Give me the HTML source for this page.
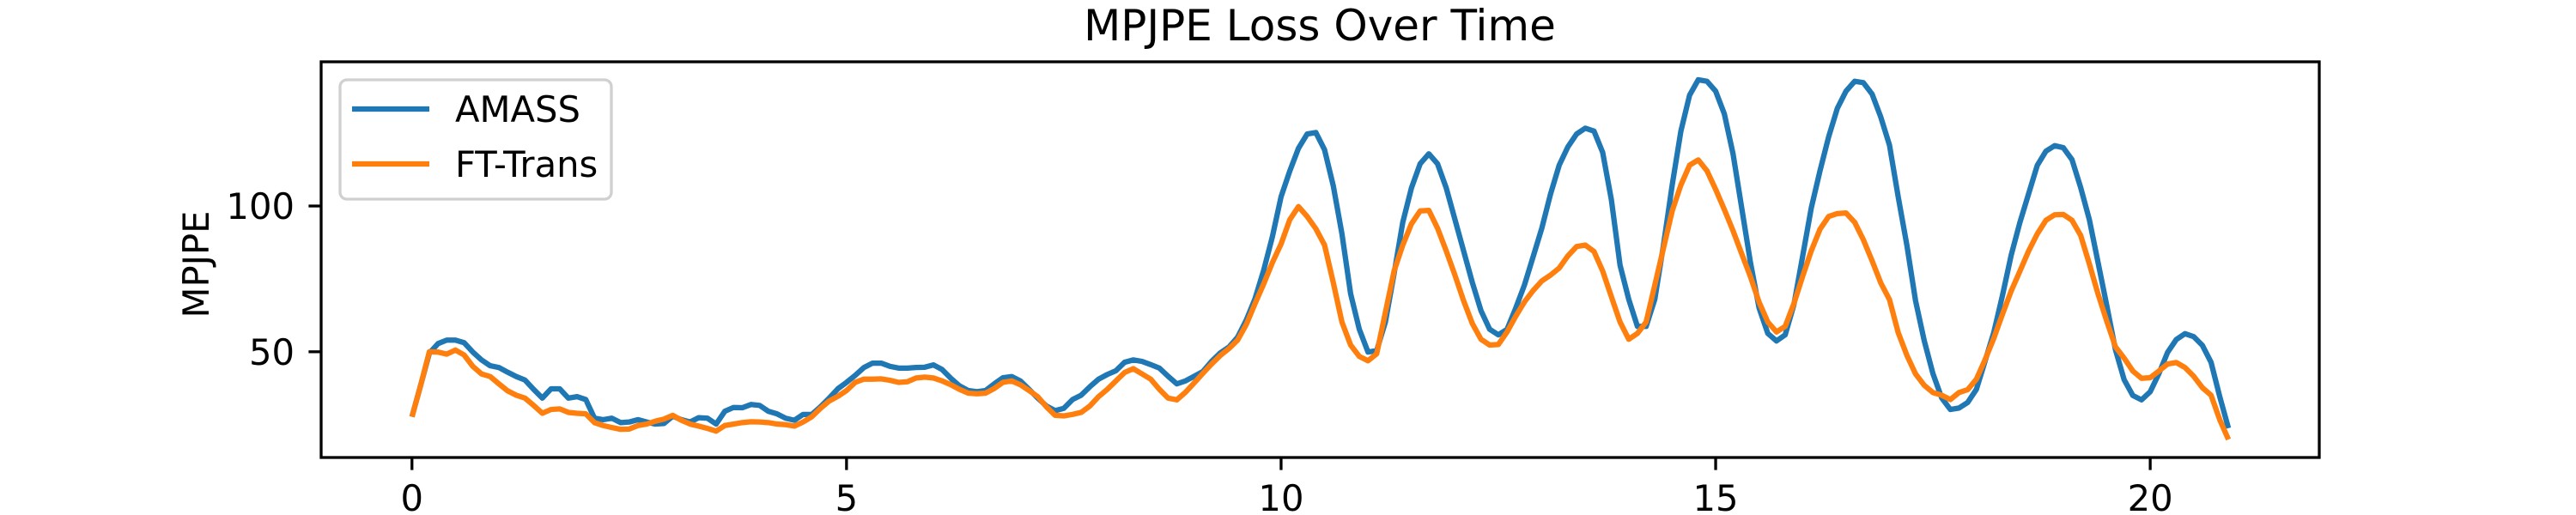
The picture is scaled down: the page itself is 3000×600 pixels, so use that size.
<!DOCTYPE html>
<html><head><meta charset="utf-8"><style>
html,body{margin:0;padding:0;background:#fff;}
svg{display:block;font-family:"DejaVu Sans","Liberation Sans",sans-serif;}
</style></head><body>
<svg id="chart" width="3000" height="600" viewBox="0 0 3000 600" xmlns="http://www.w3.org/2000/svg">
<rect width="3000" height="600" fill="#fff"/>
<text x="1537" y="47" font-size="50" text-anchor="middle">MPJPE Loss Over Time</text>
<text x="0" y="0" font-size="41.7" text-anchor="middle" transform="translate(243,308) rotate(-90)">MPJPE</text>
<g id="ticks"></g>
<g id="series"></g>
<rect x="374" y="72" width="2327" height="461" fill="none" stroke="#000" stroke-width="3.3"/>
<g>
<rect x="396" y="93" width="316" height="139" rx="8" fill="#fff" fill-opacity="0.8" stroke="#d0d0d0" stroke-width="3.3"/>
<line x1="410" y1="127" x2="500" y2="127" stroke="#1f77b4" stroke-width="6.25"/>
<text x="530" y="142" font-size="41.7">AMASS</text>
<line x1="410" y1="191" x2="500" y2="191" stroke="#ff7f0e" stroke-width="6.25"/>
<text x="530" y="206" font-size="41.7">FT-Trans</text>
</g>
</svg>
<script>
const dt = 0.1;
const amass = [27.7,38.5,49.5,52.8,54,54,53.1,49.9,47.2,45.2,44.6,43,41.5,40.3,37.1,34.1,37.3,37.3,34.1,34.6,33.6,27.2,26.7,27.2,25.7,25.9,26.7,25.9,25.2,25.4,27.9,26.7,25.9,27.4,27.2,25.2,29.6,30.9,30.8,31.9,31.6,
29.6,28.7,27.2,26.5,28.5,28.5,31.1,34.1,37.3,39.5,41.9,44.6,46.1,46.1,45,44.4,44.4,44.6,44.7,45.5,43.9,40.9,38.3,36.7,36.3,36.7,39,41.1,41.5,40,37.1,34.1,31.4,29.8,30.6,33.6,35.1,38,40.6,42.2,
43.5,46.4,47.2,46.7,45.6,44.4,41.6,39,40,41.6,43.2,46.7,49.6,51.6,55,60.9,68.2,
78,89.5,103.2,112,119.8,124.7,125.2,119.3,107,90.5,69.9,57.7,49.9,50.4,60.2,76.8,94.4,106.2,114.5,117.9,114.5,106.2,95.4,84.6,73.8,64.1,57.7,55.8,57.7,65,72.9,82.6,92.4,104.1,114,120.3,124.7,126.7,125.7,118.4,102.2,79.7,68,58.7,58.7,68,86.6,107.2,125.7,138,143.3,142.8,139.4,131.6,117.9,99.3,80.7,65,56.3,53.7,55.8,66.1,82.6,99.3,112,123.7,133.5,139.4,142.8,142.3,138.4,130.5,
120.9,103.2,86.6,67.5,53.8,42.5,34.2,30.2,30.7,32.6,37.1,46.8,56.6,69.3,83.1,94.3,104.1,113.9,118.8,120.7,120,115.9,106.3,95.3,80.6,65.9,50.7,40.4,35,33.5,36.3,42.5,49.8,54.2,56.2,55.2,52.2,46.4,34.6,23.8];
const fttrans = [27.7,38.5,50,49.9,49.2,50.6,48.9,45,42.4,41.5,39,36.6,35.1,34.1,31.6,28.9,30.2,30.4,29.2,28.9,28.7,25.7,24.7,24,23.4,23.5,24.7,25.2,26.2,26.9,28.2,26.5,25.2,24.5,23.7,22.8,24.7,25.2,25.7,26,25.9,
25.7,25.2,25,24.5,25.9,27.7,30.6,33.1,34.7,36.7,39.5,40.6,40.6,40.7,40.2,39.5,39.7,41,41.3,41,40,38.7,37.1,35.8,35.6,35.8,37.4,39.5,40,38.7,36.7,34.6,31.1,28.2,28,28.5,29.2,31.4,34.6,37.1,
40,42.9,44.2,42.4,40.6,37.1,34.1,33.5,36.1,39.3,42.6,45.8,48.7,51.1,54,59.4,
66.5,73.3,80.6,87,95.3,99.8,96.4,92.2,86.6,73.8,60.2,52.3,48.4,46.9,49.3,63.5,77.7,86.6,93.9,98.3,98.5,92.4,84.6,76.3,67.5,59.7,54.3,52.3,52.5,56.8,62.2,67.1,71,74.3,76.3,78.7,82.9,86.1,86.6,84.4,77.7,68.9,60.2,54.3,56.3,60.2,72.9,85.6,98.3,107.2,114,115.8,112.1,105.7,98.8,91.5,83.6,75.8,67,60.2,56.8,58.7,66.5,75.8,84.6,92,96.4,97.4,97.6,94.4,88.4,81.2,73.6,
67.9,56.6,48.8,42.4,38.5,36,35.1,33.6,36,37,40.6,47.3,54.6,62.9,70.8,77.6,84.5,90.4,95.1,97,97.1,95.1,89.9,80.1,69.8,60.5,51.7,47.8,43.4,40.9,41.1,43.4,45.8,46.3,44.6,41.6,37.7,35.1,26.7,19.9];
const xTicks = [0,5,10,15,20];
const yTicks = [50,100];
const xTickLabels = ["0","5","10","15","20"];
const yTickLabels = ["50","100"];

const NS = "http://www.w3.org/2000/svg";
const X0 = 374, X1 = 2701, Y0 = 533, Y1 = 72;
const n = Math.max(amass.length, fttrans.length);
const allV = amass.concat(fttrans);
const tMax = (n - 1) * dt;
const xm = tMax * 0.05;
const vMin = Math.min(...allV), vMax = Math.max(...allV);
const ym = (vMax - vMin) * 0.05;
function xs(t){ return X0 + (t - (-xm)) / (tMax + 2*xm) * (X1 - X0); }
function ys(v){ return Y0 - (v - (vMin - ym)) / (vMax - vMin + 2*ym) * (Y0 - Y1); }

const tg = document.getElementById('ticks');
xTicks.forEach((t, i) => {
  const l = document.createElementNS(NS, 'line');
  
  
  l.setAttribute('x1', xs(t)); l.setAttribute('x2', xs(t));
  l.setAttribute('y1', Y0); l.setAttribute('y2', Y0 + 14.6);
  l.setAttribute('stroke', '#000'); l.setAttribute('stroke-width', '3.3');
  tg.appendChild(l);
  const tx = document.createElementNS(NS, 'text');
  
  
  tx.setAttribute('x', xs(t)); tx.setAttribute('y', 595);
  tx.setAttribute('font-size', '41.7'); tx.setAttribute('text-anchor', 'middle');
  tx.textContent = xTickLabels[i];
  tg.appendChild(tx);
});
yTicks.forEach((v, i) => {
  const l = document.createElementNS(NS, 'line');
  
  
  l.setAttribute('x1', X0 - 14.6); l.setAttribute('x2', X0);
  l.setAttribute('y1', ys(v)); l.setAttribute('y2', ys(v));
  l.setAttribute('stroke', '#000'); l.setAttribute('stroke-width', '3.3');
  tg.appendChild(l);
  const tx = document.createElementNS(NS, 'text');
  
  
  tx.setAttribute('x', 343); tx.setAttribute('y', ys(v) + 15);
  tx.setAttribute('font-size', '41.7'); tx.setAttribute('text-anchor', 'end');
  tx.textContent = yTickLabels[i];
  tg.appendChild(tx);
});

const sg = document.getElementById('series');
function drawLine(vals, color, name){
  const p = document.createElementNS(NS, 'polyline');
  
  
  p.setAttribute('points', vals.map((v, i) => xs(i*dt).toFixed(2) + ',' + ys(v).toFixed(2)).join(' '));
  p.setAttribute('fill', 'none');
  p.setAttribute('stroke', color);
  p.setAttribute('stroke-width', '6.25');
  p.setAttribute('stroke-linejoin', 'round');
  sg.appendChild(p);
}
drawLine(amass, '#1f77b4', 'amass-line');
drawLine(fttrans, '#ff7f0e', 'fttrans-line');
</script>
</body></html>
